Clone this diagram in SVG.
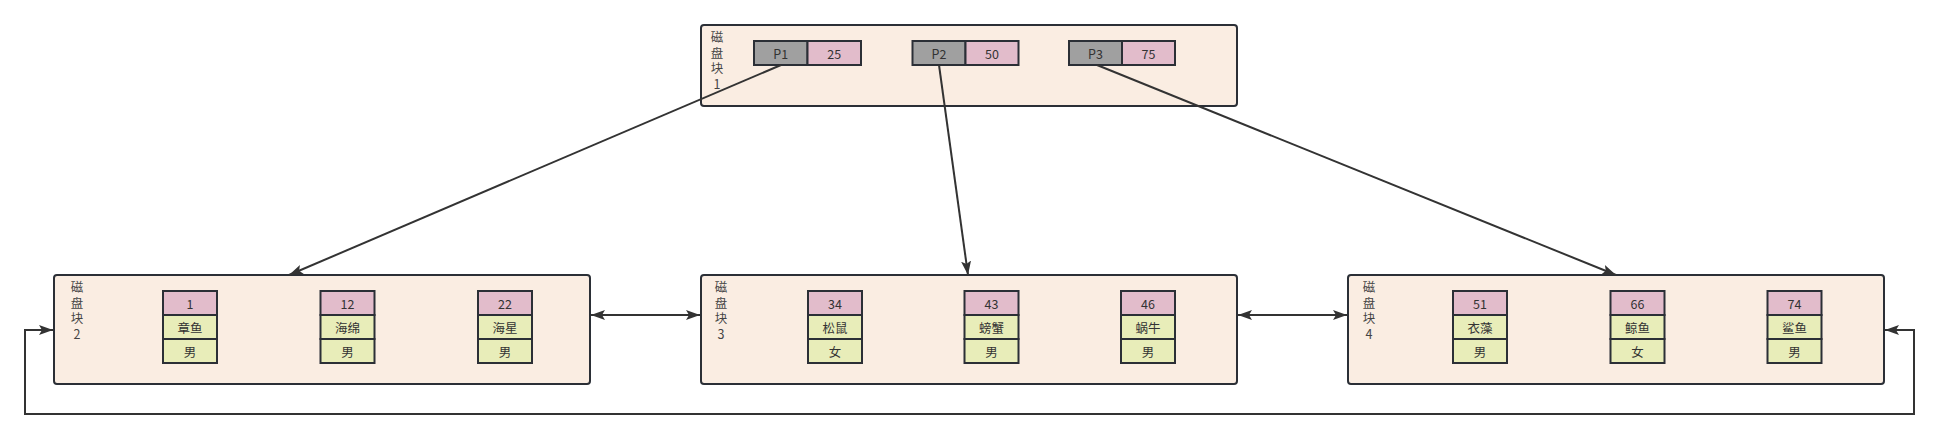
<svg xmlns="http://www.w3.org/2000/svg" width="1940" height="439" viewBox="0 0 1940 439">
<defs>
<style>
.blk{fill:#faede2;stroke:#2b2f36;stroke-width:2}
.pc{fill:#a0a0a0;stroke:#2b2f36;stroke-width:2}
.kc{fill:#e2bccb;stroke:#2b2f36;stroke-width:2}
.dc{fill:#e8edb9;stroke:#2b2f36;stroke-width:2}
text{font-family:"Noto Sans CJK SC","Noto Sans",sans-serif;font-size:12.5px;fill:#333;text-anchor:middle;dominant-baseline:central}
.lbl{font-size:12.5px;fill:#444;writing-mode:vertical-rl;text-orientation:upright;letter-spacing:3px;text-anchor:start;dominant-baseline:central}
.con{fill:none;stroke:#333;stroke-width:2}
</style>
<marker id="ah" markerUnits="userSpaceOnUse" markerWidth="16" markerHeight="12" refX="14" refY="5" orient="auto-start-reverse">
<path d="M0,0 L14,5 L0,10 L3,5 z" fill="#333"/>
</marker>
</defs>

<g id="block1">
<rect class="blk" x="701" y="25" width="536" height="81" rx="3"/>
<text class="lbl" x="717" y="31">磁盘块1</text>
<rect class="pc" x="754" y="41" width="53.5" height="24"/><text x="780.75" y="53">P1</text>
<rect class="kc" x="807.5" y="41" width="53.5" height="24"/><text x="834.25" y="53">25</text>
<rect class="pc" x="912.5" y="41" width="53" height="24"/><text x="939" y="53">P2</text>
<rect class="kc" x="965.5" y="41" width="53" height="24"/><text x="992" y="53">50</text>
<rect class="pc" x="1069" y="41" width="53" height="24"/><text x="1095.5" y="53">P3</text>
<rect class="kc" x="1122" y="41" width="53" height="24"/><text x="1148.5" y="53">75</text>
</g>

<g id="block2">
<rect class="blk" x="54" y="275" width="536" height="109" rx="3"/>
<text class="lbl" x="77" y="281">磁盘块2</text>
<rect class="kc" x="163" y="291" width="54" height="24"/><text x="190" y="303">1</text>
<rect class="dc" x="163" y="315" width="54" height="24"/><text x="190" y="327">章鱼</text>
<rect class="dc" x="163" y="339" width="54" height="24"/><text x="190" y="351">男</text>
<rect class="kc" x="320.5" y="291" width="54" height="24"/><text x="347.5" y="303">12</text>
<rect class="dc" x="320.5" y="315" width="54" height="24"/><text x="347.5" y="327">海绵</text>
<rect class="dc" x="320.5" y="339" width="54" height="24"/><text x="347.5" y="351">男</text>
<rect class="kc" x="478" y="291" width="54" height="24"/><text x="505" y="303">22</text>
<rect class="dc" x="478" y="315" width="54" height="24"/><text x="505" y="327">海星</text>
<rect class="dc" x="478" y="339" width="54" height="24"/><text x="505" y="351">男</text>
</g>

<g id="block3">
<rect class="blk" x="701" y="275" width="536" height="109" rx="3"/>
<text class="lbl" x="721" y="281">磁盘块3</text>
<rect class="kc" x="808" y="291" width="54" height="24"/><text x="835" y="303">34</text>
<rect class="dc" x="808" y="315" width="54" height="24"/><text x="835" y="327">松鼠</text>
<rect class="dc" x="808" y="339" width="54" height="24"/><text x="835" y="351">女</text>
<rect class="kc" x="964.5" y="291" width="54" height="24"/><text x="991.5" y="303">43</text>
<rect class="dc" x="964.5" y="315" width="54" height="24"/><text x="991.5" y="327">螃蟹</text>
<rect class="dc" x="964.5" y="339" width="54" height="24"/><text x="991.5" y="351">男</text>
<rect class="kc" x="1121" y="291" width="54" height="24"/><text x="1148" y="303">46</text>
<rect class="dc" x="1121" y="315" width="54" height="24"/><text x="1148" y="327">蜗牛</text>
<rect class="dc" x="1121" y="339" width="54" height="24"/><text x="1148" y="351">男</text>
</g>

<g id="block4">
<rect class="blk" x="1348" y="275" width="536" height="109" rx="3"/>
<text class="lbl" x="1369" y="281">磁盘块4</text>
<rect class="kc" x="1453" y="291" width="54" height="24"/><text x="1480" y="303">51</text>
<rect class="dc" x="1453" y="315" width="54" height="24"/><text x="1480" y="327">衣藻</text>
<rect class="dc" x="1453" y="339" width="54" height="24"/><text x="1480" y="351">男</text>
<rect class="kc" x="1610.5" y="291" width="54" height="24"/><text x="1637.5" y="303">66</text>
<rect class="dc" x="1610.5" y="315" width="54" height="24"/><text x="1637.5" y="327">鲸鱼</text>
<rect class="dc" x="1610.5" y="339" width="54" height="24"/><text x="1637.5" y="351">女</text>
<rect class="kc" x="1767.5" y="291" width="54" height="24"/><text x="1794.5" y="303">74</text>
<rect class="dc" x="1767.5" y="315" width="54" height="24"/><text x="1794.5" y="327">鲨鱼</text>
<rect class="dc" x="1767.5" y="339" width="54" height="24"/><text x="1794.5" y="351">男</text>
</g>

<g id="connectors">
<path class="con" d="M781,65 L289,275" marker-end="url(#ah)"/>
<path class="con" d="M939,65 L968,275" marker-end="url(#ah)"/>
<path class="con" d="M1097,65 L1616,275" marker-end="url(#ah)"/>
<path class="con" d="M591,315 L700,315" marker-start="url(#ah)" marker-end="url(#ah)"/>
<path class="con" d="M1238,315 L1347,315" marker-start="url(#ah)" marker-end="url(#ah)"/>
<path class="con" d="M1885,330 H1914 V414 H25 V330 H53" marker-start="url(#ah)" marker-end="url(#ah)"/>
</g>
</svg>
